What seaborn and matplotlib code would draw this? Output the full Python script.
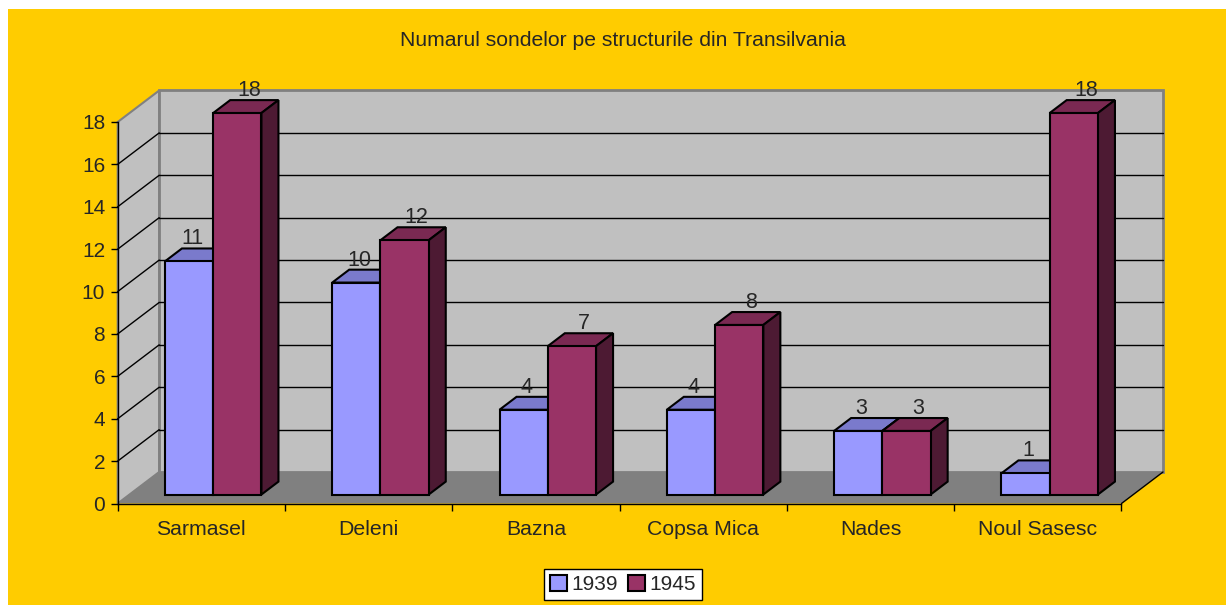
import numpy as np
import pandas as pd
import matplotlib
matplotlib.use('Agg')
import matplotlib.pyplot as plt
from matplotlib.patches import Polygon, Rectangle, Patch
from matplotlib.transforms import ScaledTranslation
import seaborn as sns

structures = ['Sarmasel', 'Deleni', 'Bazna', 'Copsa Mica', 'Nades', 'Noul Sasesc']
years = ['1939', '1945']
wells_1939 = [11, 10, 4, 4, 3, 1]
wells_1945 = [18, 12, 7, 8, 3, 18]

df = pd.DataFrame({
    'structura': structures * 2,
    'an': [years[0]] * 6 + [years[1]] * 6,
    'sonde': wells_1939 + wells_1945,
})

sns.set_style('white')
plt.rcParams['font.family'] = ['Liberation Sans', 'DejaVu Sans']

W, H = 1226, 605
fig = plt.figure(figsize=(W / 100, H / 100), dpi=100)
fig.patch.set_facecolor('white')
fig.patches.append(Rectangle((8 / W, 0), 1, 1 - 9 / H, transform=fig.transFigure,
                             facecolor='#FFCC00', edgecolor='none', zorder=-10))

# front plane of the "3d" box, in pixels
left, right, top, bottom = 117.7, 1121.5, 122, 503.5
ax = fig.add_axes([left / W, (H - bottom) / H, (right - left) / W, (bottom - top) / H])
ax.patch.set_visible(False)

front = ['#9999FF', '#993366']
topc = ['#7A7ACC', '#7A2952']
sidec = ['#4D4D80', '#4D1A33']

sns.barplot(data=df, x='structura', y='sonde', hue='an', palette=front,
            width=0.577, saturation=1, edgecolor='black', linewidth=1.5,
            legend=False, ax=ax, zorder=4)
ax.set_xlim(-0.5, 5.5)
ax.set_ylim(0, 18)

# depth of the box in pixels -> data units
ux = (right - left) / 6
uy = (bottom - top) / 18
DX, DY = 41.5 / ux, 31.5 / uy
f0, fd = 0.285, 0.41

# walls + floor
ax.add_patch(Polygon([(-0.5, 0), (-0.5 + DX, DY), (-0.5 + DX, 18 + DY), (-0.5, 18)],
                     facecolor='#C0C0C0', edgecolor='#808080', lw=1.5, zorder=0.5, clip_on=False))
ax.add_patch(Polygon([(-0.5 + DX, DY), (5.5 + DX, DY), (5.5 + DX, 18 + DY), (-0.5 + DX, 18 + DY)],
                     facecolor='#C0C0C0', edgecolor='#808080', lw=2, zorder=0.5, clip_on=False))
ax.add_patch(Polygon([(-0.5, 0), (5.5, 0), (5.5 + DX, DY), (-0.5 + DX, DY)],
                     facecolor='#808080', edgecolor='none', zorder=0.8, clip_on=False))
ax.plot([5.5, 5.5 + DX], [0, DY], color='black', lw=1, zorder=0.9, clip_on=False)
for y in range(2, 18, 2):
    ax.plot([-0.5 + DX, 5.5 + DX], [y + DY, y + DY], color='black', lw=1, zorder=1, clip_on=False)
    ax.plot([-0.5, -0.5 + DX], [y, y + DY], color='black', lw=1, zorder=1, clip_on=False)

# bars: push back a bit and add top / side faces
off = ax.transData + ScaledTranslation(f0 * 41.5 / 100, f0 * 31.5 / 100, fig.dpi_scale_trans)
sdx, sdy = fd * DX, fd * DY
lab_off = [3 / ux, 12 / ux]
for i, cont in enumerate(ax.containers):
    for bar in cont:
        x0, w, h = bar.get_x(), bar.get_width(), bar.get_height()
        bar.set_transform(off)
        bar.set_clip_on(False)
        ax.add_patch(Polygon([(x0, h), (x0 + w, h), (x0 + w + sdx, h + sdy), (x0 + sdx, h + sdy)],
                             transform=off, facecolor=topc[i], edgecolor='black', lw=1.5,
                             zorder=3, clip_on=False))
        ax.add_patch(Polygon([(x0 + w, 0), (x0 + w + sdx, sdy), (x0 + w + sdx, h + sdy), (x0 + w, h)],
                             transform=off, facecolor=sidec[i], edgecolor='black', lw=1.5,
                             zorder=3, clip_on=False))
        ax.text(x0 + w / 2 + lab_off[i], h + sdy + 4 / uy, f'{h:g}', transform=off,
                ha='center', va='baseline', fontsize=15.5, zorder=6)

ax.grid(False)
ax.set_xlabel('')
ax.set_ylabel('')
ax.set_yticks(range(0, 19, 2))
ax.set_xticks(np.arange(-0.5, 6, 1), minor=True)
ax.tick_params(left=True, bottom=True, which='both')
ax.tick_params(axis='y', length=5, width=1, color='black', labelsize=15, pad=4)
ax.tick_params(axis='x', which='major', length=0, pad=12, labelsize=15.3)
ax.tick_params(axis='x', which='minor', length=5, width=1, color='black')
for s in ['top', 'right']:
    ax.spines[s].set_visible(False)
for s in ['left', 'bottom']:
    ax.spines[s].set_color('black')
    ax.spines[s].set_linewidth(1)
    ax.spines[s].set_zorder(2)

fig.text(623 / W, 1 - 41 / H, 'Numarul sondelor pe structurile din Transilvania',
         ha='center', va='center', fontsize=15.2)

handles = [Patch(facecolor=c, edgecolor='black', linewidth=1.5) for c in front]
leg = fig.legend(handles, years, loc='center', bbox_to_anchor=(623 / W, 1 - 584.5 / H),
                 ncol=2, frameon=True, fancybox=False, edgecolor='black', framealpha=1,
                 fontsize=15, handlelength=0.8, handleheight=0.8, handletextpad=0.2,
                 columnspacing=0.5, borderpad=0.3, borderaxespad=0)
leg.get_frame().set_linewidth(1)

fig.savefig('out.png', dpi=100)
